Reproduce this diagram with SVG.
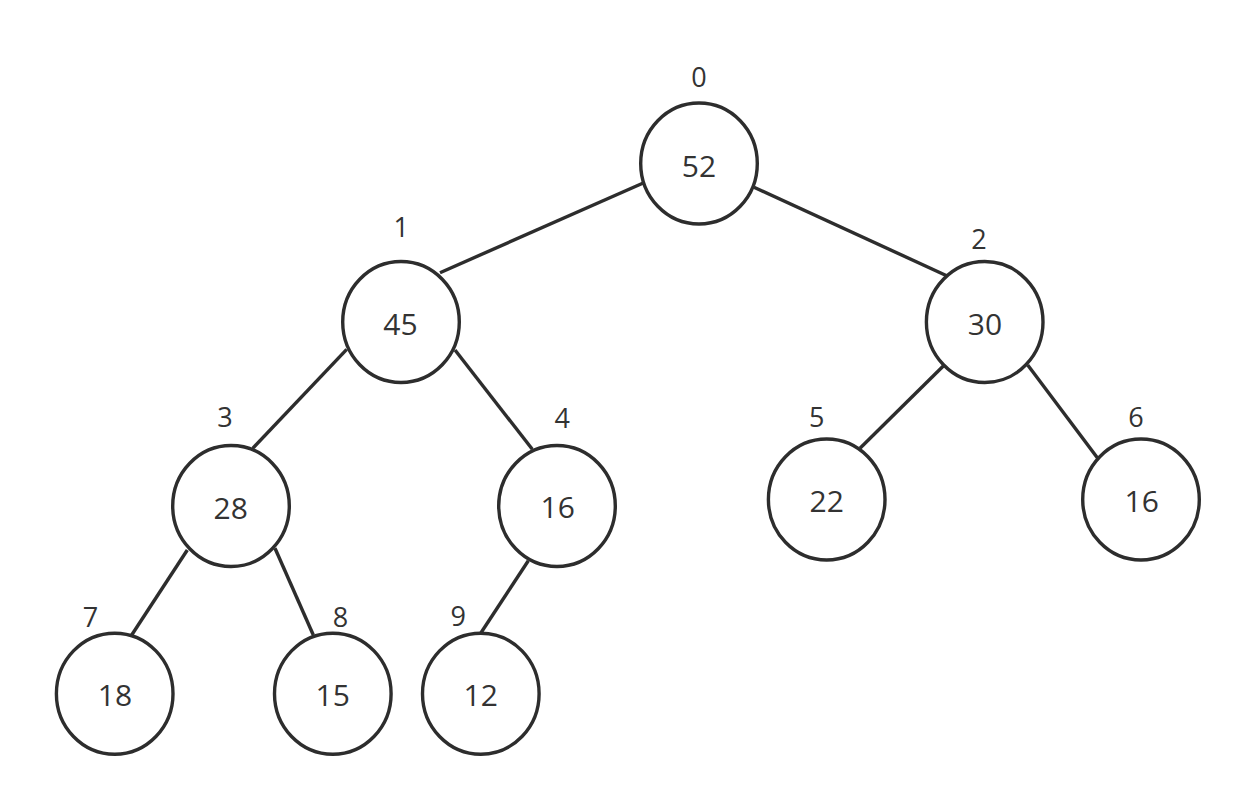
<svg xmlns="http://www.w3.org/2000/svg" width="1249" height="804" viewBox="0 0 1249 804">
<style>
.n{fill:#ffffff;stroke:#2d2d2d;stroke-width:3.4}
.e{stroke:#2d2d2d;stroke-width:3.4;fill:none}
.v{font-family:"Open Sans","Noto Sans",sans-serif;font-size:30px;fill:#333333;text-anchor:middle}
.l{font-family:"Open Sans","Noto Sans",sans-serif;font-size:27px;fill:#333333;text-anchor:middle}
</style>
<rect width="1249" height="804" fill="#ffffff"/>
<g id="connectors">
<line class="e" x1="642.7" y1="183.3" x2="440" y2="272.7"/>
<line class="e" x1="754" y1="187.3" x2="946.7" y2="275.7"/>
<line class="e" x1="346.7" y1="349.3" x2="252.7" y2="448.3"/>
<line class="e" x1="455" y1="350" x2="532.3" y2="449.3"/>
<line class="e" x1="943.3" y1="366" x2="860" y2="448.3"/>
<line class="e" x1="1027.7" y1="365" x2="1097.7" y2="458.3"/>
<line class="e" x1="187.3" y1="550" x2="131.7" y2="635"/>
<line class="e" x1="275" y1="548.3" x2="313.3" y2="635"/>
<line class="e" x1="528.3" y1="560.7" x2="481" y2="632.7"/>
</g>
<g id="node0"><ellipse class="n" cx="699" cy="163.5" rx="58.3" ry="60.5"/><text class="v" x="699" y="176.8">52</text><text class="l" x="699" y="86.5">0</text></g>
<g id="node1"><ellipse class="n" cx="401" cy="322" rx="58.3" ry="60.5"/><text class="v" x="400.5" y="334.8">45</text><text class="l" x="401.3" y="237.3">1</text></g>
<g id="node2"><ellipse class="n" cx="984.7" cy="322" rx="58.3" ry="60.5"/><text class="v" x="985" y="334.6">30</text><text class="l" x="979" y="249">2</text></g>
<g id="node3"><ellipse class="n" cx="231" cy="506" rx="58.3" ry="60.5"/><text class="v" x="230.7" y="518.6">28</text><text class="l" x="225" y="426.7">3</text></g>
<g id="node4"><ellipse class="n" cx="557" cy="506" rx="58.3" ry="60.5"/><text class="v" x="557.7" y="518.1">16</text><text class="l" x="562.3" y="427.7">4</text></g>
<g id="node5"><ellipse class="n" cx="826.7" cy="499.5" rx="58.3" ry="60.5"/><text class="v" x="826.7" y="512">22</text><text class="l" x="816.7" y="426.7">5</text></g>
<g id="node6"><ellipse class="n" cx="1141" cy="499.5" rx="58.3" ry="60.5"/><text class="v" x="1141.7" y="512">16</text><text class="l" x="1136" y="426.7">6</text></g>
<g id="node7"><ellipse class="n" cx="114.7" cy="693.7" rx="58.3" ry="60.5"/><text class="v" x="115" y="706.3">18</text><text class="l" x="90.5" y="626.7">7</text></g>
<g id="node8"><ellipse class="n" cx="332.8" cy="693.7" rx="58.3" ry="60.5"/><text class="v" x="332.7" y="706.3">15</text><text class="l" x="340.5" y="626.7">8</text></g>
<g id="node9"><ellipse class="n" cx="480.8" cy="693.7" rx="58.3" ry="60.5"/><text class="v" x="480.7" y="706">12</text><text class="l" x="458.3" y="626">9</text></g>
</svg>
